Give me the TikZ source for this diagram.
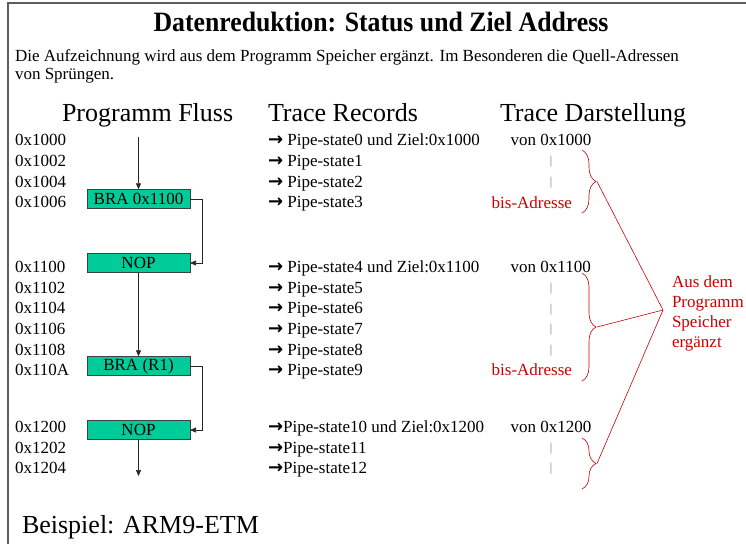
\documentclass[tikz,border=0pt]{standalone}
\usepackage{fontspec}
\setmainfont{Liberation Serif}
\newfontfamily\pfeilfont{DejaVu Sans}
\usetikzlibrary{arrows.meta,decorations.pathreplacing}
\definecolor{figGruen}{RGB}{0,204,153}
\definecolor{figRot}{RGB}{204,0,0}
\definecolor{figRahmen}{RGB}{95,95,95}
\newcommand{\pf}{{\pfeilfont\bfseries\fontsize{18}{20}\selectfont →}}

\begin{document}
\begin{tikzpicture}[
  x=1pt, y=-1pt, every node/.style={inner sep=0pt, outer sep=0pt},
  txt/.style={anchor=base west, font=\fontsize{17}{20}\selectfont},
  kopf/.style={anchor=base west, font=\fontsize{26}{30}\selectfont},
  rot/.style={txt, text=figRot},
  strich/.style={font=\fontsize{12}{14}\selectfont, text=black!55},
  befehl/.style={draw=black!75, line width=0.6pt, fill=figGruen, minimum width=103pt,
                 minimum height=19.5pt, font=\fontsize{17}{20}\selectfont},
  fluss/.style={-{Triangle[length=6pt,width=5pt]}, line width=0.6pt, black!85},
  klammer/.style={draw=figRot, line width=0.6pt, decorate, decoration={brace, amplitude=14pt}},
  zeiger/.style={draw=figRot, line width=0.6pt}
]
\useasboundingbox (0,0) rectangle (746,544);
\draw[figRahmen, line width=2pt] (746,3) -- (8,3) -- (8,544);

\node[anchor=base, font=\fontsize{28}{32}\selectfont\bfseries] (titel) at (381,31.7)
     {\scalebox{0.92}[1]{Datenreduktion: Status und Ziel Address}};
% base = letzte Zeile
\node[txt, align=left, font=\fontsize{17}{17.5}\selectfont] (intro) at (15,79.3)
     {Die Aufzeichnung wird aus dem Programm Speicher ergänzt. Im Besonderen die Quell-Adressen\\von Sprüngen.};

\node[kopf] (hFluss) at (62,121) {Programm Fluss};
\node[kopf] (hRecords) at (268,121) {Trace Records};
\node[kopf] (hDarst) at (500,121) {Trace Darstellung};

% Adressen
\node[txt] (a1000) at (15,145) {0x1000};
\node[txt] (a1002) at (15,166) {0x1002};
\node[txt] (a1004) at (15,187) {0x1004};
\node[txt] (a1006) at (15,207) {0x1006};
\node[txt] (a1100) at (15,272) {0x1100};
\node[txt] (a1102) at (15,293) {0x1102};
\node[txt] (a1104) at (15,313.5) {0x1104};
\node[txt] (a1106) at (15,334) {0x1106};
\node[txt] (a1108) at (15,355) {0x1108};
\node[txt] (a110A) at (15,375.5) {0x110A};
\node[txt] (a1200) at (15,432.5) {0x1200};
\node[txt] (a1202) at (15,453) {0x1202};
\node[txt] (a1204) at (15,473) {0x1204};

% Programmfluss
\node[befehl] (bra1) at (138.5,199) {BRA 0x1100};
\node[befehl] (nop1) at (138.5,263) {NOP};
\node[befehl] (bra2) at (138.5,366) {BRA (R1)};
\node[befehl] (nop2) at (138.5,430) {NOP};
\coordinate (start) at (138.5,137);
\coordinate (ende) at (138.5,476);

\draw[fluss] (start) -- (bra1.north);
\draw[fluss] (bra1.east) -- ++(12,0) |- (nop1.east);
\draw[fluss] (nop1.south) -- (bra2.north);
\draw[fluss] (bra2.east) -- ++(12,0) |- (nop2.east);
\draw[fluss] (nop2.south) -- (ende);

% Trace Records
\node[txt] (r0) at (268,145) {\pf{} Pipe-state0 und Ziel:0x1000};
\node[txt] (r1) at (268,166) {\pf{} Pipe-state1};
\node[txt] (r2) at (268,187) {\pf{} Pipe-state2};
\node[txt] (r3) at (268,207) {\pf{} Pipe-state3};
\node[txt] (r4) at (268,272) {\pf{} Pipe-state4 und Ziel:0x1100};
\node[txt] (r5) at (268,293) {\pf{} Pipe-state5};
\node[txt] (r6) at (268,313.5) {\pf{} Pipe-state6};
\node[txt] (r7) at (268,334) {\pf{} Pipe-state7};
\node[txt] (r8) at (268,355) {\pf{} Pipe-state8};
\node[txt] (r9) at (268,375.5) {\pf{} Pipe-state9};
\node[txt] (r10) at (268,432.5) {\pf Pipe-state10 und Ziel:0x1200};
\node[txt] (r11) at (268,453) {\pf Pipe-state11};
\node[txt] (r12) at (268,473) {\pf Pipe-state12};

% Trace Darstellung
\node[txt] (von1) at (510.7,145) {von 0x1000};
\node[strich] (s1) at (551,162) {|};
\node[strich] (s2) at (551,183) {|};
\node[rot] (bis1) at (491.7,208.3) {bis-Adresse};
\node[txt] (von2) at (510.7,272) {von 0x1100};
\node[strich] (s3) at (551,289) {|};
\node[strich] (s4) at (551,309.5) {|};
\node[strich] (s5) at (551,330) {|};
\node[strich] (s6) at (551,351) {|};
\node[rot] (bis2) at (491.7,375.5) {bis-Adresse};
\node[txt] (von3) at (510.7,432.5) {von 0x1200};
\node[strich] (s7) at (551,449) {|};
\node[strich] (s8) at (551,469) {|};

% Klammern
\coordinate (k1o) at (582,150);
\coordinate (k1u) at (582,213);
\coordinate (k1) at (597,181.5);
\coordinate (k2o) at (582,273);
\coordinate (k2u) at (582,381);
\coordinate (k2) at (597,327);
\coordinate (k3o) at (582,438);
\coordinate (k3u) at (582,489);
\coordinate (k3) at (597,463.5);
\draw[klammer] (k1o) -- (k1u);
\draw[klammer] (k2o) -- (k2u);
\draw[klammer] (k3o) -- (k3u);

\node[rot, align=left] (quelle) at (672,347) {Aus dem\\Programm\\Speicher\\ergänzt};
\coordinate (hub) at (663,310);
\draw[zeiger] (k1) -- (hub);
\draw[zeiger] (k2) -- (hub);
\draw[zeiger] (k3) -- (hub);

\node[kopf] (beispiel) at (22,533.3) {Beispiel: ARM9-ETM};
\end{tikzpicture}
\end{document}
